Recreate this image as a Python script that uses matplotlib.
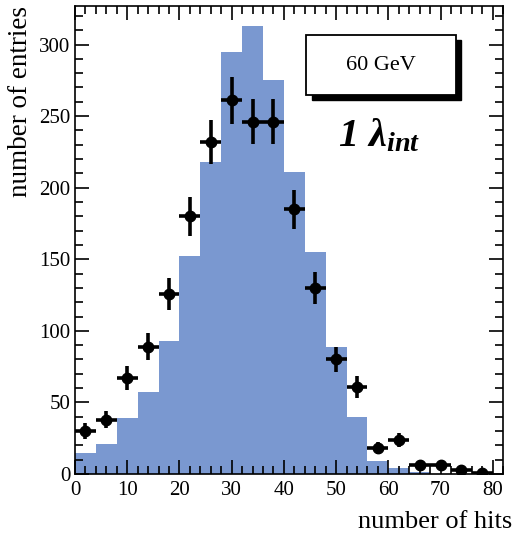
## number of hits distribution, 60 GeV, 1 lambda_int
import numpy as np
from matplotlib import pyplot as plt
from matplotlib.patches import Rectangle
from matplotlib.ticker import MultipleLocator

plt.rcParams['font.family'] = ['Liberation Serif', 'DejaVu Serif']
plt.rcParams['mathtext.fontset'] = 'custom'
plt.rcParams['mathtext.rm'] = 'Liberation Serif'
plt.rcParams['mathtext.it'] = 'Liberation Serif:italic:bold'
plt.rcParams['mathtext.bf'] = 'Liberation Serif:bold'

# simulated histogram (blue), bins of 4 hits
bin_edges = [0, 4, 8, 12, 16, 20, 24, 28, 32, 36, 40, 44, 48, 52, 56, 60, 64, 68]
sim_counts = [15, 21, 39, 57, 93, 152, 218, 295, 313, 275, 211, 155, 89, 40, 9, 4.5, 1.5]

# data points
hits = [2, 6, 10, 14, 18, 22, 26, 30, 34, 38, 42, 46, 50, 54, 58, 62, 66, 70, 74, 78]
entries = [30, 38, 67, 89, 126, 180, 232, 261, 246, 246, 185, 130, 80, 61, 18, 24, 6, 6, 3, 1]
entries_err = [5.5, 6.2, 8.2, 9.4, 11.2, 13.4, 15.2, 16.2, 15.7, 15.7,
               13.6, 11.4, 8.9, 7.8, 4.2, 4.9, 2.4, 2.4, 1.7, 1.0]
hits_err = 2

fig = plt.figure(figsize=(5.14, 5.35), dpi=100)
ax = fig.add_axes([0.146, 0.114, 0.833, 0.875])

ax.stairs(sim_counts, bin_edges, fill=True, color='#7a98d0', zorder=1)
ax.errorbar(hits, entries, yerr=entries_err, xerr=hits_err, fmt='o', color='black',
            ms=7.5, elinewidth=2.6, capsize=0, zorder=3)

ax.set_xlim(0, 82)
ax.set_ylim(0, 327)
ax.xaxis.set_major_locator(MultipleLocator(10))
ax.xaxis.set_minor_locator(MultipleLocator(2))
ax.yaxis.set_major_locator(MultipleLocator(50))
ax.yaxis.set_minor_locator(MultipleLocator(10))
ax.tick_params(which='both', direction='in', top=True, right=True, width=1.2,
               labelsize=15)
ax.tick_params(axis='x', pad=5)
ax.tick_params(which='major', length=10)
ax.tick_params(which='minor', length=6)
for s in ax.spines.values():
    s.set_linewidth(1.2)

ax.set_xlabel("number of hits", fontsize=19, ha='right', va='top')
ax.xaxis.set_label_coords(1.021, -0.08)
ax.set_ylabel("number of entries", fontsize=19.5, loc='top')

# label box with shadow
ax.add_patch(Rectangle((45.3, 261.0), 28.7, 42.5, facecolor='black', edgecolor='black', zorder=4))
ax.add_patch(Rectangle((44.3, 264.5), 28.7, 42.5, facecolor='white', edgecolor='black',
                       lw=1.3, zorder=5))
ax.text(58.6, 285.7, "60 GeV", fontsize=16, ha='center', va='center', zorder=6)
ax.text(58.2, 228.7, "1 λ$_{int}$", fontsize=29, fontstyle='italic', fontweight='bold',
        ha='center', va='baseline')

plt.savefig("out.png", dpi=100)
